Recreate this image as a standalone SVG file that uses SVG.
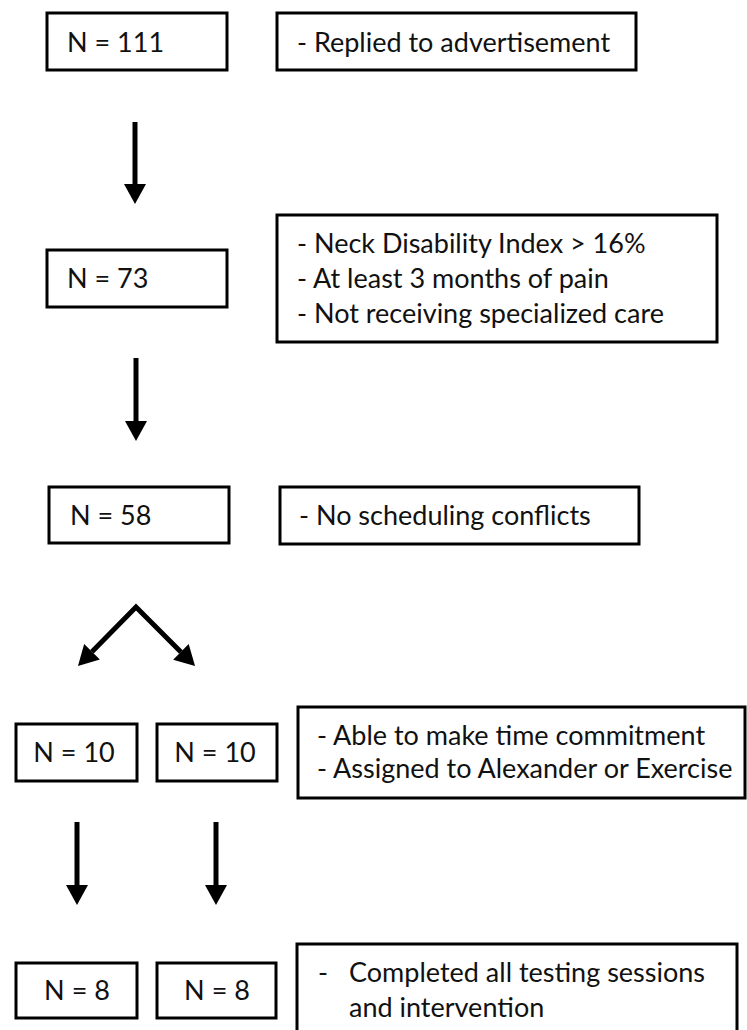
<svg xmlns="http://www.w3.org/2000/svg" width="747" height="1030" viewBox="0 0 747 1030">
<style>
.box{fill:#fff;stroke:#000;stroke-width:3}
.t{font-family:Lato,"Liberation Sans",Arial,sans-serif;font-size:27px;fill:#111}
.m{text-anchor:middle}
.c{fill:none;stroke:#000;stroke-width:5}
</style>
<defs>
<marker id="ah" viewBox="0 -11 20 22" markerWidth="20" markerHeight="22" refX="0" refY="0" orient="auto-start-reverse" markerUnits="userSpaceOnUse" overflow="visible">
<path d="M0,-11 L20,0 L0,11 z" fill="#000"/>
</marker>
</defs>
<rect width="747" height="1030" fill="#fff"/>
<g id="connectors">
<line class="c" x1="135" y1="122" x2="135" y2="184" marker-end="url(#ah)"/>
<line class="c" x1="136" y1="358" x2="136" y2="421" marker-end="url(#ah)"/>
<path class="c" d="M92,651.7 L136,607 L180.9,651.9" stroke-linejoin="miter" marker-start="url(#ah)" marker-end="url(#ah)"/>
<line class="c" x1="77" y1="822" x2="77" y2="885" marker-end="url(#ah)"/>
<line class="c" x1="216" y1="822" x2="216" y2="885" marker-end="url(#ah)"/>
</g>
<g id="n111">
<rect class="box" x="47" y="13" width="180" height="57"/>
<text class="t" x="67" y="52">N = 111</text>
</g>
<g id="replied">
<rect class="box" x="277" y="13" width="359" height="57"/>
<text class="t" x="297" y="52">- Replied to advertisement</text>
</g>
<g id="n73">
<rect class="box" x="47" y="250" width="180" height="57"/>
<text class="t" x="67" y="288">N = 73</text>
</g>
<g id="criteria">
<rect class="box" x="277" y="215" width="440" height="127"/>
<text class="t" x="297" y="253">- Neck Disability Index &gt; 16%</text>
<text class="t" x="297" y="288">- At least 3 months of pain</text>
<text class="t" x="297" y="323">- Not receiving specialized care</text>
</g>
<g id="n58">
<rect class="box" x="49" y="487" width="180" height="56"/>
<text class="t" x="70" y="525">N = 58</text>
</g>
<g id="scheduling">
<rect class="box" x="280" y="487" width="359" height="57"/>
<text class="t" x="299" y="525">- No scheduling conflicts</text>
</g>
<g id="n10a">
<rect class="box" x="16" y="724" width="121" height="57"/>
<text class="t m" x="74" y="762">N = 10</text>
</g>
<g id="n10b">
<rect class="box" x="157" y="724" width="120" height="57"/>
<text class="t m" x="215" y="762">N = 10</text>
</g>
<g id="commitment">
<rect class="box" x="298" y="707" width="447" height="91"/>
<text class="t" x="317" y="745">- Able to make time commitment</text>
<text class="t" x="317" y="778">- Assigned to Alexander or Exercise</text>
</g>
<g id="n8a">
<rect class="box" x="16" y="963" width="121" height="55"/>
<text class="t m" x="77" y="1000">N = 8</text>
</g>
<g id="n8b">
<rect class="box" x="157" y="963" width="119" height="55"/>
<text class="t m" x="217" y="1000">N = 8</text>
</g>
<g id="completed">
<rect class="box" x="297" y="944" width="440" height="95"/>
<text class="t" x="318" y="982">-</text>
<text class="t" x="349" y="982">Completed all testing sessions</text>
<text class="t" x="349" y="1017">and intervention</text>
</g>
</svg>
